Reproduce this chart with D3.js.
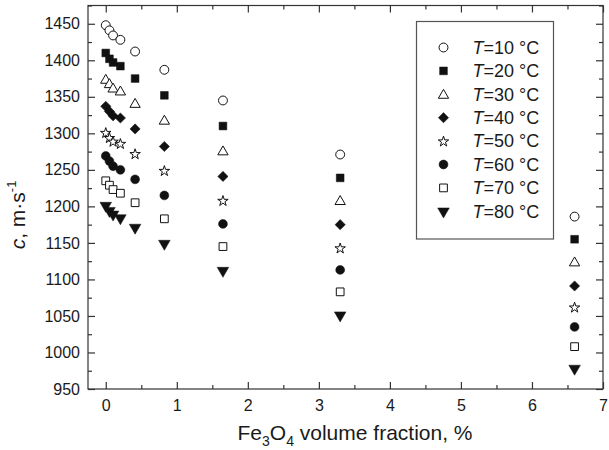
<!DOCTYPE html>
<html><head><meta charset="utf-8">
<script src="https://cdn.jsdelivr.net/npm/d3@7/dist/d3.min.js"></script>
<style>
body{margin:0;background:#fff;}
text{font-family:"Liberation Sans",Arial,Helvetica,sans-serif;fill:#1a1a1a;}
</style></head>
<body><svg id="chart" width="609" height="450"></svg>
<script>
const fractions = [0, 0.052, 0.103, 0.206, 0.413, 0.825, 1.65, 3.3, 6.6];
const T10 = [1448, 1441, 1434, 1428, 1412, 1387, 1345, 1271, 1186];
const T20 = [1410, 1402, 1397, 1392, 1375, 1352, 1310, 1239, 1155];
const T30 = [1374, 1368, 1362, 1358, 1341, 1318, 1276, 1208, 1124];
const T40 = [1337, 1330, 1324, 1321, 1306, 1282, 1241, 1175, 1091];
const T50 = [1301, 1294, 1289, 1286, 1272, 1249, 1208, 1143, 1062];
const T60 = [1269, 1262, 1255, 1250, 1237, 1215, 1176, 1113, 1035];
const T70 = [1235, 1229, 1223, 1218, 1205, 1183, 1145, 1083, 1008];
const T80 = [1201, 1194, 1189, 1184, 1171, 1149, 1112, 1051, 978];
const seriesLabels = ["10", "20", "30", "40", "50", "60", "70", "80"];
const xTicks = [0, 1, 2, 3, 4, 5, 6, 7];
const yTicks = [950, 1000, 1050, 1100, 1150, 1200, 1250, 1300, 1350, 1400, 1450];

const seriesValues = [T10, T20, T30, T40, T50, T60, T70, T80];
const markers = [
  ["circle", false], ["square", true], ["triangle", false], ["diamond", true],
  ["star", false], ["circle", true], ["square", false], ["triangleDown", true]
];

const svg = d3.select("#chart");
const L = 88, R = 603, T = 5.5, B = 389;
const x = d3.scaleLinear().domain([-0.25, 7]).range([L, R]);
const y = d3.scaleLinear().domain([950, 1475]).range([B, T]);
const axisColor = "#333";

function symPath(shape) {
  const g = d3.symbol();
  switch (shape) {
    case "circle": return g.type(d3.symbolCircle).size(62)();
    case "square": return g.type(d3.symbolSquare).size(60)();
    case "triangle": return g.type(d3.symbolTriangle).size(46)();
    case "triangleDown": return g.type(d3.symbolTriangle).size(58)();
    case "diamond": return g.type(d3.symbolSquare).size(52)();
    case "star": return g.type(d3.symbolStar).size(34)();
  }
}
function symTransform(shape, px, py) {
  let t = `translate(${px},${py})`;
  if (shape === "triangleDown") t += " rotate(180)";
  if (shape === "diamond") t += " rotate(45)";
  if (shape === "triangle") t += " translate(0,1)";
  if (shape === "star") t += " translate(0,0.5)";
  return t;
}

svg.append("rect").attr("x", L).attr("y", T).attr("width", R - L).attr("height", B - T)
  .attr("fill", "none").attr("stroke", axisColor).attr("stroke-width", 1.2);

const minorX = d3.range(-0.5, 7.01, 1).filter(v => v > -0.25);
const minorY = d3.range(975, 1476, 50);

function styleAxis(g) {
  g.select(".domain").remove();
  g.selectAll(".tick line").attr("stroke", axisColor).attr("stroke-width", 1.2);
  g.selectAll("text").style("font-size", "16px").attr("fill", "#1a1a1a");
}

svg.append("g").attr("transform", `translate(0,${B})`)
  .call(d3.axisBottom(x).tickValues(xTicks).tickSize(-7).tickPadding(11).tickFormat(d3.format("d")))
  .call(styleAxis);
svg.append("g").attr("transform", `translate(0,${B})`)
  .call(d3.axisBottom(x).tickValues(minorX).tickSize(-4).tickFormat(""))
  .call(styleAxis);
svg.append("g").attr("transform", `translate(0,${T})`)
  .call(d3.axisTop(x).tickValues(xTicks).tickSize(-7).tickFormat(""))
  .call(styleAxis);
svg.append("g").attr("transform", `translate(0,${T})`)
  .call(d3.axisTop(x).tickValues(minorX).tickSize(-4).tickFormat(""))
  .call(styleAxis);
svg.append("g").attr("transform", `translate(${L},0)`)
  .call(d3.axisLeft(y).tickValues(yTicks).tickSize(-7).tickPadding(8).tickFormat(d3.format("d")))
  .call(styleAxis);
svg.append("g").attr("transform", `translate(${L},0)`)
  .call(d3.axisLeft(y).tickValues(minorY).tickSize(-4).tickFormat(""))
  .call(styleAxis);
svg.append("g").attr("transform", `translate(${R},0)`)
  .call(d3.axisRight(y).tickValues(yTicks).tickSize(-7).tickFormat(""))
  .call(styleAxis);
svg.append("g").attr("transform", `translate(${R},0)`)
  .call(d3.axisRight(y).tickValues(minorY).tickSize(-4).tickFormat(""))
  .call(styleAxis);

seriesValues.forEach((vals, i) => {
  const [shape, filled] = markers[i];
  svg.append("g").selectAll("path").data(vals.map((v, j) => [fractions[j], v]))
    .join("path")
    .attr("d", symPath(shape))
    .attr("transform", d => symTransform(shape, x(d[0]), y(d[1])))
    .attr("fill", filled ? "#111" : "#fff")
    .attr("stroke", "#111")
    .attr("stroke-width", filled ? 0.5 : 1);
});

const lg = svg.append("g");
lg.append("rect").attr("x", 416.5).attr("y", 21.5).attr("width", 137).attr("height", 217.5)
  .attr("fill", "#fff").attr("stroke", "#555").attr("stroke-width", 1.2);
seriesLabels.forEach((lab, i) => {
  const [shape, filled] = markers[i];
  const cy = 47.5 + i * 23.4;
  lg.append("path").attr("d", symPath(shape))
    .attr("transform", symTransform(shape, 443.5, cy))
    .attr("fill", filled ? "#111" : "#fff").attr("stroke", "#111")
    .attr("stroke-width", filled ? 0.5 : 1);
  const t = lg.append("text").attr("x", 472.5).attr("y", cy + 6.3).style("font-size", "18px");
  t.append("tspan").attr("font-style", "italic").text("T");
  t.append("tspan").text("=" + lab + " °C");
});

const xl = svg.append("text").attr("x", 355).attr("y", 440).attr("text-anchor", "middle").style("font-size", "21px");
xl.append("tspan").text("Fe");
xl.append("tspan").attr("dy", 6).style("font-size", "14px").text("3");
xl.append("tspan").attr("dy", -6).text("O");
xl.append("tspan").attr("dy", 6).style("font-size", "14px").text("4");
xl.append("tspan").attr("dy", -6).text(" volume fraction, %");

const yl = svg.append("text").attr("transform", "translate(25,215) rotate(-90)")
  .attr("text-anchor", "middle").style("font-size", "21px");
yl.append("tspan").attr("font-style", "italic").text("c");
yl.append("tspan").text(", m·s");
yl.append("tspan").attr("dy", -9).style("font-size", "13px").text("-1");
</script></body></html>
